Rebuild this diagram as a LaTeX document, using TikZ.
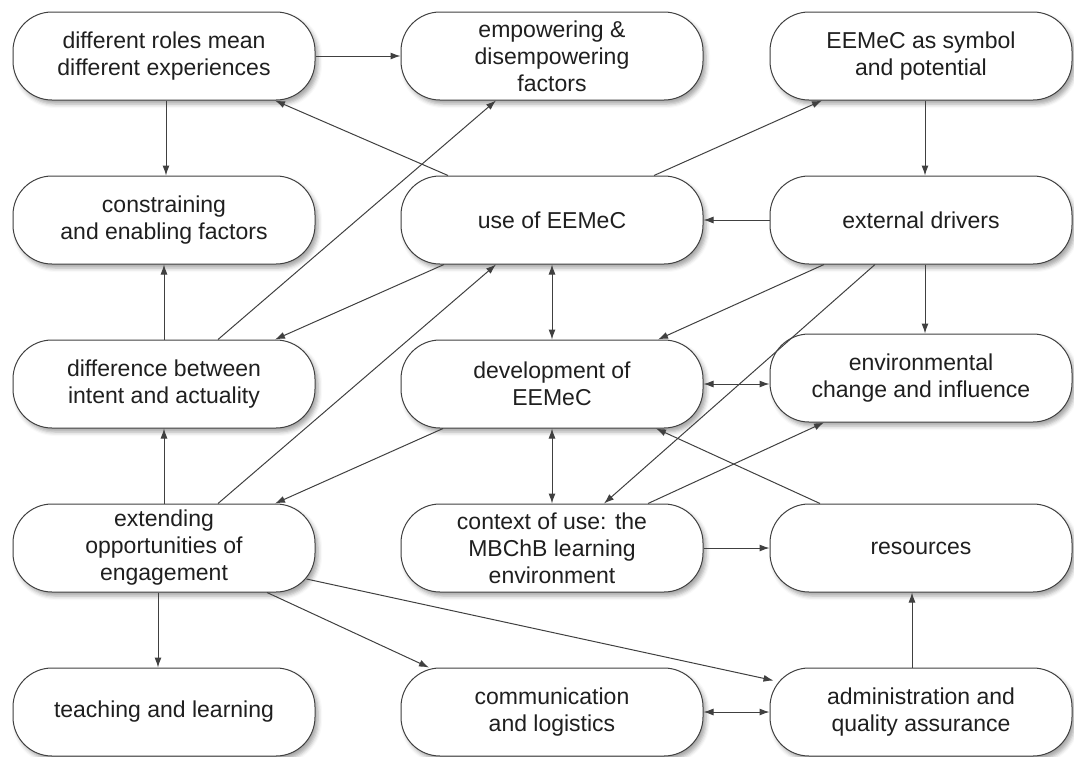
\documentclass[tikz,border=0pt]{standalone}
\usepackage{fontspec}
\setmainfont{Liberation Sans}
\usetikzlibrary{positioning, arrows.meta, shadows.blur}

\begin{document}
\begin{tikzpicture}[
    node distance=75pt and 85pt,
    theme/.style={rectangle, rounded corners=39pt, draw=black!75, line width=1pt, fill=white,
        minimum width=302pt, minimum height=88pt, inner sep=0pt, align=center,
        font=\fontsize{23}{27}\selectfont, text=black!88,
        blur shadow={shadow xshift=3pt, shadow yshift=-4pt, shadow blur radius=4pt, shadow opacity=35}
        },
    link/.style={-{Latex[length=10pt,width=7pt]}, line width=1pt, draw=black!75},
    both/.style={link, {Latex[length=10pt,width=7pt]}-{Latex[length=10pt,width=7pt]}}
]
\useasboundingbox (0,0) rectangle (1074pt,-756pt);

% Top row
\node[theme] (roles) at (164pt,-56pt) {different roles mean\\different experiences};
\node[theme, right=of roles] (empower) {empowering \&\\disempowering\\factors};
\node[theme, right=66pt of empower] (symbol) {EEMeC as symbol\\and potential};

% Second row
\node[theme, below=of roles] (constrain) {constraining\\and enabling factors};
\node[theme, below=of empower] (use) {use of EEMeC};
\node[theme, below=of symbol] (drivers) {external drivers};

% Third row, environmental box sits a little higher
\node[theme, below=of constrain] (gap) {difference between\\intent and actuality};
\node[theme, below=of use] (develop) {development of\\EEMeC};
\node[theme, below=69pt of drivers] (environ) {environmental\\change and influence};

% Fourth row
\node[theme, below=of gap] (extend) {extending\\opportunities of\\engagement};
\node[theme, below=of develop] (context) {context of use: the\\MBChB learning\\environment};
\node[theme, right=66pt of context] (resources) {resources};

% Bottom row
\node[theme, below=of extend] (teaching) {teaching and learning};
\node[theme, below=of context] (comms) {communication\\and logistics};
\node[theme, right=66pt of comms] (admin) {administration and\\quality assurance};

% Links from the top half
\draw[link] (roles) -- (empower);
\draw[link] ([xshift=2pt]roles.south) -- ([xshift=2pt]constrain.north);
\draw[link] ([xshift=-104pt]use.north) -- ([xshift=111pt]roles.south);
\draw[link] ([xshift=54pt]gap.north) -- ([xshift=-56pt]empower.south);
\draw[link] ([xshift=102pt]use.north) -- ([xshift=-99pt]symbol.south);
\draw[link] ([xshift=4pt]symbol.south) -- ([xshift=4pt]drivers.north);
\draw[link] (drivers) -- (use);
\draw[link] ([xshift=-108pt]use.south) -- ([xshift=111pt]gap.north);
\draw[link] ([xshift=54pt]extend.north) -- ([xshift=-56pt]use.south);
\draw[both] (use) -- (develop);
\draw[link] (gap) -- (constrain);
\draw[link] ([xshift=-97pt]drivers.south) -- ([xshift=106pt]develop.north);
\draw[link] ([xshift=-46pt]drivers.south) -- ([xshift=52pt]context.north);
\draw[link] ([xshift=4pt]drivers.south) -- ([xshift=4pt]environ.north);
\draw[both] (develop) -- (develop -| environ.west);

% Links from the lower half
\draw[link] ([xshift=-109pt]develop.south) -- ([xshift=111pt]extend.north);
\draw[both] (develop) -- (context);
\draw[link] ([xshift=96pt]context.north) -- ([xshift=-97pt]environ.south);
\draw[link] ([xshift=-101pt]resources.north) -- ([xshift=104pt]develop.south);
\draw[link] (extend) -- (gap);
\draw[link] (context) -- (resources);
\draw[link] ([xshift=-6pt]extend.south) -- ([xshift=-6pt]teaching.north);
\draw[link] ([xshift=103pt]extend.south) -- ([xshift=-123pt]comms.north);
\draw[link] ([shift={(-9pt,-31pt)}]extend.east) -- ([shift={(4pt,-13pt)}]admin.north west);
\draw[both] (comms) -- (admin);
\draw[link] ([xshift=-9pt]admin.north) -- ([xshift=-9pt]resources.south);

\end{tikzpicture}
\end{document}
